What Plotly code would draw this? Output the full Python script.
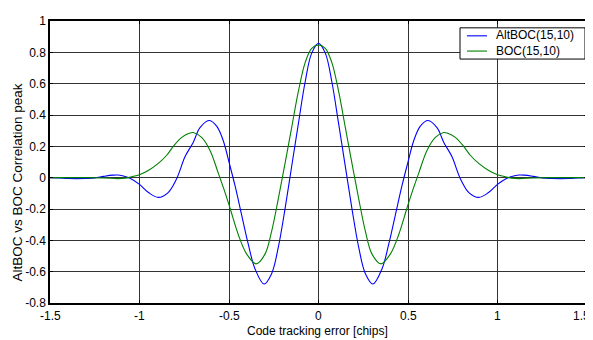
import plotly.graph_objects as go

# Code tracking error [chips]
alt_x = [-1.5, -1.45, -1.4, -1.35, -1.3, -1.25, -1.2, -1.15, -1.12, -1.08, -1.05, -1.0,
         -0.95, -0.895, -0.84, -0.79, -0.746, -0.70, -0.662, -0.612, -0.569, -0.532,
         -0.498, -0.466, -0.429, -0.392, -0.355, -0.304, -0.262, -0.225, -0.187, -0.150,
         -0.113, -0.075, -0.038, 0.0,
         0.038, 0.075, 0.113, 0.150, 0.187, 0.225, 0.262, 0.304, 0.355, 0.392, 0.429,
         0.466, 0.498, 0.532, 0.569, 0.612, 0.662, 0.70, 0.746, 0.79, 0.84, 0.895, 0.95,
         1.0, 1.05, 1.08, 1.12, 1.15, 1.2, 1.25, 1.3, 1.35, 1.4, 1.45, 1.5]
alt_y = [0.0, -0.002, -0.005, -0.006, -0.005, -0.002, 0.008, 0.016, 0.017, 0.008, -0.005, -0.043,
         -0.095, -0.126, -0.095, 0.0, 0.133, 0.225, 0.319, 0.365, 0.329, 0.236,
         0.091, -0.053, -0.24, -0.426, -0.581, -0.679, -0.613, -0.447, -0.199, 0.071,
         0.34, 0.609, 0.795, 0.857,
         0.795, 0.609, 0.34, 0.071, -0.199, -0.447, -0.613, -0.679, -0.581, -0.426, -0.24,
         -0.053, 0.091, 0.236, 0.329, 0.365, 0.319, 0.225, 0.133, 0.0, -0.095, -0.126, -0.095,
         -0.043, -0.005, 0.008, 0.017, 0.016, 0.008, -0.002, -0.005, -0.006, -0.005, -0.002, 0.0]

boc_x = [-1.5, -1.4, -1.3, -1.2, -1.12, -1.08, -1.044, -1.0, -0.951, -0.895, -0.848, -0.811,
         -0.764, -0.718, -0.70, -0.653, -0.606, -0.560, -0.522, -0.494, -0.448, -0.401,
         -0.349, -0.299, -0.262, -0.225, -0.187, -0.150, -0.113, -0.075, -0.038, 0.0,
         0.038, 0.075, 0.113, 0.150, 0.187, 0.225, 0.262, 0.299, 0.349, 0.401, 0.448,
         0.494, 0.522, 0.560, 0.606, 0.653, 0.70, 0.718, 0.764, 0.811, 0.848, 0.895, 0.951,
         1.0, 1.044, 1.08, 1.12, 1.2, 1.3, 1.4, 1.5]
boc_y = [0.0, 0.0, 0.0, -0.002, -0.006, -0.003, 0.006, 0.019, 0.046, 0.091, 0.143, 0.2,
         0.257, 0.285, 0.288, 0.257, 0.174, 0.029, -0.095, -0.195, -0.364, -0.488,
         -0.55, -0.488, -0.343, -0.137, 0.091, 0.319, 0.547, 0.733, 0.826, 0.847,
         0.826, 0.733, 0.547, 0.319, 0.091, -0.137, -0.343, -0.488, -0.55, -0.488, -0.364,
         -0.195, -0.095, 0.029, 0.174, 0.257, 0.288, 0.285, 0.257, 0.2, 0.143, 0.091, 0.046,
         0.019, 0.006, -0.003, -0.006, -0.002, 0.0, 0.0, 0.0]

series_names = ["AltBOC(15,10)", "BOC(15,10)"]
series_colors = ["#0000FF", "#008000"]

x_ticks = [-1.5, -1, -0.5, 0, 0.5, 1, 1.5]
x_tick_labels = ["-1.5", "-1", "-0.5", "0", "0.5", "1", "1.5"]
y_ticks = [-0.8, -0.6, -0.4, -0.2, 0, 0.2, 0.4, 0.6, 0.8, 1]
y_tick_labels = ["-0.8", "-0.6", "-0.4", "-0.2", "0", "0.2", "0.4", "0.6", "0.8", "1"]
x_title = "Code tracking error [chips]"
y_title = "AltBOC vs BOC Correlation peak"

FONT = "Liberation Sans, Arial, sans-serif"

fig = go.Figure()
for xs, ys, name, col in [(alt_x, alt_y, series_names[0], series_colors[0]),
                          (boc_x, boc_y, series_names[1], series_colors[1])]:
    fig.add_trace(go.Scatter(x=xs, y=ys, mode="lines", name=name, showlegend=False,
                             line=dict(color=col, width=1.1, shape="spline", smoothing=1.0)))

axis_common = dict(
    showline=True, linecolor="black", linewidth=1.5, mirror="ticks",
    ticks="inside", ticklen=3, tickcolor="black",
    showgrid=True, gridcolor="#333333", gridwidth=1,
    zeroline=False,
    tickfont=dict(family=FONT, size=12, color="black"),
)

# Page layout: the HTML body has a default 8px margin, so the figure is drawn at (8, 8).
W, H = 593, 340
OFF = 8
# desired plot-area edges in window pixels
L, R = 50, 587
T, B = 14, 303
def px(xp):
    return (xp - L) / (R - L)
def py(yp):
    return 1 - (yp - T) / (B - T)

# Compact MATLAB-style legend
row_gap = 15.6  # 1.3 em line height of a 12px font
row0 = 29.2
shapes = [dict(type="rect", xref="paper", yref="paper", layer="above",
               x0=px(460), x1=px(585), y0=py(53), y1=py(21),
               fillcolor="white", line=dict(color="black", width=1))]
for i, col in enumerate(series_colors):
    yy = row0 + i * row_gap
    shapes.append(dict(type="line", xref="paper", yref="paper", layer="above",
                       x0=px(467), x1=px(487), y0=py(yy), y1=py(yy),
                       line=dict(color=col, width=1.1)))
annotations = [dict(xref="paper", yref="paper", x=px(494), y=py(row0 + row_gap / 2),
                    xanchor="left", yanchor="middle", align="left", showarrow=False,
                    text="<br>".join(series_names),
                    font=dict(family=FONT, size=12, color="black"))]

# x tick labels placed close under the axis (as in the reference)
for v, t in zip(x_ticks, x_tick_labels):
    if v == x_ticks[-1]:
        annotations.append(dict(xref="paper", yref="paper", x=px(592), y=py(316),
                                xanchor="right", yanchor="middle", showarrow=False,
                                text=t, font=dict(family=FONT, size=12, color="black")))
    else:
        annotations.append(dict(xref="x", yref="paper", x=v, y=py(316),
                                xanchor="center", yanchor="middle", showarrow=False,
                                text=t, font=dict(family=FONT, size=12, color="black")))

annotations.append(dict(xref="paper", yref="paper", x=px(317), y=py(332),
                        xanchor="center", yanchor="middle", showarrow=False,
                        text=x_title, font=dict(family=FONT, size=12, color="black")))
annotations.append(dict(xref="paper", yref="paper", x=px(17), y=py(179.5),
                        xanchor="center", yanchor="middle", showarrow=False, textangle=-90,
                        text=y_title, font=dict(family=FONT, size=13.5, color="black")))

fig.update_layout(
    width=W, height=H,
    margin=dict(l=L - OFF, r=W - (R - OFF), t=T - OFF, b=H - (B - OFF)),
    paper_bgcolor="white", plot_bgcolor="white",
    font=dict(family=FONT, size=12, color="black"),
    xaxis=dict(range=[-1.5, 1.5], tickvals=x_ticks, showticklabels=False, **axis_common),
    yaxis=dict(range=[-0.8, 1.0], tickvals=y_ticks, ticktext=y_tick_labels, **axis_common),
    shapes=shapes,
    annotations=annotations,
    showlegend=False,
)

fig.write_html("out.html")
